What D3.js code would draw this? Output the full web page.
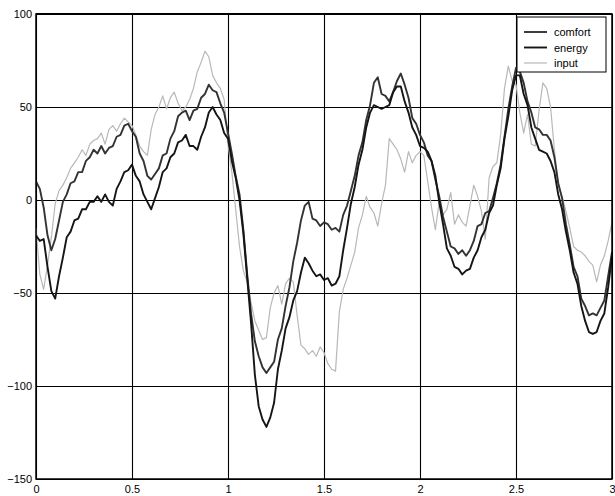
<!DOCTYPE html>
<html>
<head>
<meta charset="utf-8">
<script src="https://cdn.jsdelivr.net/npm/d3@7"></script>
<style>
  body { margin: 0; background: #fff; }
  .axis text { font-family: "Liberation Sans", Arial, sans-serif; font-size: 11px; fill: #000; }
  .axis line, .axis path { stroke: #000; }
  .legend text { font-family: "Liberation Sans", Arial, sans-serif; font-size: 11px; fill: #000; }
</style>
</head>
<body>
<div id="chart"></div>
<script>
// time samples (x axis)
var time = [
  0.00, 0.02, 0.04, 0.06, 0.08, 0.10, 0.12, 0.14, 0.16, 0.18,
  0.20, 0.22, 0.24, 0.26, 0.28, 0.30, 0.32, 0.34, 0.36, 0.38,
  0.40, 0.42, 0.44, 0.46, 0.48, 0.50, 0.52, 0.54, 0.56, 0.58,
  0.60, 0.62, 0.64, 0.66, 0.68, 0.70, 0.72, 0.74, 0.76, 0.78,
  0.80, 0.82, 0.84, 0.86, 0.88, 0.90, 0.92, 0.94, 0.96, 0.98,
  1.00, 1.02, 1.04, 1.06, 1.08, 1.10, 1.12, 1.14, 1.16, 1.18,
  1.20, 1.22, 1.24, 1.26, 1.28, 1.30, 1.32, 1.34, 1.36, 1.38,
  1.40, 1.42, 1.44, 1.46, 1.48, 1.50, 1.52, 1.54, 1.56, 1.58,
  1.60, 1.62, 1.64, 1.66, 1.68, 1.70, 1.72, 1.74, 1.76, 1.78,
  1.80, 1.82, 1.84, 1.86, 1.88, 1.90, 1.92, 1.94, 1.96, 1.98,
  2.00, 2.02, 2.04, 2.06, 2.08, 2.10, 2.12, 2.14, 2.16, 2.18,
  2.20, 2.22, 2.24, 2.26, 2.28, 2.30, 2.32, 2.34, 2.36, 2.38,
  2.40, 2.42, 2.44, 2.46, 2.48, 2.50, 2.52, 2.54, 2.56, 2.58,
  2.60, 2.62, 2.64, 2.66, 2.68, 2.70, 2.72, 2.74, 2.76, 2.78,
  2.80, 2.82, 2.84, 2.86, 2.88, 2.90, 2.92, 2.94, 2.96, 2.98,
  3.00
];

var comfort = [
  10, 6, -4, -19, -27, -21, -11, -1, 3, 9,
  10, 15, 15, 21, 23, 27, 25, 29, 25, 28,
  29, 34, 35, 40, 41, 37, 34, 25, 21, 13,
  11, 14, 17, 24, 25, 33, 37, 45, 47, 48,
  43, 48, 49, 55, 57, 62, 59, 58, 52, 47,
  36, 25, 13, 3, -16, -40, -61, -76, -84, -90,
  -93, -90, -87, -75, -69, -57, -47, -33, -23, -11,
  -3, -1, -10, -11, -14, -12, -13, -16, -15, -17,
  -8, -3, 5, 13, 24, 31, 43, 51, 63, 66,
  57, 56, 53, 58, 64, 68, 62, 55, 44, 41,
  35, 31, 24, 21, 11, 2, -9, -17, -25, -26,
  -29, -27, -30, -27, -22, -14, -13, -7, -6, 1,
  9, 19, 34, 49, 61, 71, 69, 63, 53, 47,
  39, 38, 35, 35, 32, 23, 9, 1, -13, -24,
  -36, -41, -53, -57, -62, -61, -62, -58, -54, -41,
  -28
];

var energy = [
  -19, -22, -21, -36, -49, -53, -41, -31, -20, -17,
  -11, -10, -5, -5, -1, -1, 2, -1, 3, -1,
  -3, 6, 10, 15, 16, 19, 13, 10, 3, -1,
  -5, 1, 7, 15, 17, 23, 25, 31, 32, 35,
  29, 29, 27, 34, 39, 47, 50, 46, 43, 36,
  33, 21, 12, 0, -18, -42, -66, -94, -111, -118,
  -122, -117, -109, -91, -81, -69, -63, -54, -49, -39,
  -31, -34, -38, -41, -40, -43, -42, -46, -45, -41,
  -27, -15, -2, 7, 19, 27, 39, 47, 51, 50,
  49, 50, 51, 58, 61, 61, 53, 47, 39, 35,
  29, 28, 26, 21, 13, -1, -13, -26, -30, -36,
  -37, -40, -38, -37, -31, -27, -20, -16, -7, -3,
  8, 17, 33, 45, 59, 67, 67, 57, 51, 39,
  33, 27, 26, 25, 21, 15, 3, -5, -17, -27,
  -39, -45, -57, -65, -71, -72, -71, -65, -61, -47,
  -30
];

var input = [
  -15, -40, -48, -35, -20, -2, 5, 8, 12, 17,
  20, 23, 27, 24, 30, 32, 33, 36, 30, 38,
  40, 37, 41, 44, 42, 40, 35, 29, 26, 24,
  38, 46, 50, 56, 49, 55, 58, 52, 48, 50,
  54, 60, 69, 74, 80, 77, 67, 63, 60, 54,
  30, 15, -5, -25, -38, -44, -55, -65, -70, -75,
  -74, -58, -50, -46, -56, -45, -42, -44, -62, -78,
  -80, -83, -81, -84, -79, -82, -88, -91, -92, -60,
  -48, -42, -35, -28, -15, -8, 2, -4, -7, -14,
  -2, 8, 33, 30, 27, 22, 15, 26, 20, 24,
  26, 24, 10, -4, -16, -1, -8, -5, 4, -13,
  -8, -12, -14, -3, 8, 2, -6, -21, 12, 18,
  20, 35, 60, 72, 64, 62, 47, 36, 46, 30,
  29, 48, 63, 60, 50, 27, 8, 2, -6, -15,
  -25, -27, -28, -30, -33, -35, -44, -35, -30, -22,
  -12
];

var xTicks = [0, 0.5, 1, 1.5, 2, 2.5, 3];
var yTicks = [-150, -100, -50, 0, 50, 100];

var seriesNames = ["comfort", "energy", "input"];
var seriesColours = ["#333333", "#151515", "#b8b8b8"];
var seriesWidths = [1.9, 1.9, 1.2];

// set the dimensions of the plot box
var width = 615,
    height = 496,
    plot = {left: 36, right: 612, top: 14, bottom: 479};

// set the ranges
var x = d3.scaleLinear().domain([0, 3]).range([plot.left, plot.right]);
var y = d3.scaleLinear().domain([-150, 100]).range([plot.bottom, plot.top]);

var svg = d3.select("#chart")
  .append("svg")
    .attr("width", width)
    .attr("height", height);

svg.append("defs").append("clipPath")
    .attr("id", "plotclip")
  .append("rect")
    .attr("x", plot.left).attr("y", plot.top)
    .attr("width", plot.right - plot.left).attr("height", plot.bottom - plot.top);

// grid + axes
svg.append("g")
    .attr("class", "axis")
    .attr("transform", "translate(0," + plot.bottom + ")")
    .call(d3.axisBottom(x)
      .tickValues(xTicks)
      .tickSize(-(plot.bottom - plot.top))
      .tickPadding(6)
      .tickFormat(d3.format("")))
    .call(function(g) { g.select(".domain").remove(); })
    .call(function(g) { g.selectAll("line").attr("stroke-width", 1.1); });

svg.append("g")
    .attr("class", "axis")
    .attr("transform", "translate(" + plot.left + ",0)")
    .call(d3.axisLeft(y)
      .tickValues(yTicks)
      .tickSize(-(plot.right - plot.left))
      .tickPadding(4)
      .tickFormat(d3.format("")))
    .call(function(g) { g.select(".domain").remove(); })
    .call(function(g) { g.selectAll("line").attr("stroke-width", 1.1); });

// the data lines
var table = seriesNames.map(function(name, i) {
  var vals = [comfort, energy, input][i];
  return { name: name, colour: seriesColours[i], w: seriesWidths[i],
           points: time.map(function(t, j) { return { t: t, v: vals[j] }; }) };
});

var valueline = d3.line()
    .x(function(d) { return x(d.t); })
    .y(function(d) { return y(d.v); });

svg.append("g")
    .attr("clip-path", "url(#plotclip)")
  .selectAll("path")
    .data([table[2], table[0], table[1]])
  .enter().append("path")
    .attr("fill", "none")
    .attr("stroke", function(d) { return d.colour; })
    .attr("stroke-width", function(d) { return d.w; })
    .attr("stroke-linejoin", "round")
    .attr("d", function(d) { return valueline(d.points); });

// frame, top edge a little heavier
svg.append("rect")
    .attr("x", plot.left).attr("y", plot.top)
    .attr("width", plot.right - plot.left).attr("height", plot.bottom - plot.top)
    .attr("fill", "none")
    .attr("stroke", "#000")
    .attr("stroke-width", 1.5);

svg.append("line")
    .attr("x1", plot.left).attr("x2", plot.right)
    .attr("y1", plot.top).attr("y2", plot.top)
    .attr("stroke", "#000")
    .attr("stroke-width", 2.2);

// legend
var legend = svg.append("g").attr("class", "legend");

legend.append("rect")
    .attr("x", 517).attr("y", 17)
    .attr("width", 89).attr("height", 55)
    .attr("fill", "#fff")
    .attr("stroke", "#000")
    .attr("stroke-width", 1);

var items = legend.selectAll("g.item")
    .data(table)
  .enter().append("g")
    .attr("class", "item")
    .attr("transform", function(d, i) { return "translate(0," + (32 + i * 15.5) + ")"; });

items.append("line")
    .attr("x1", 524).attr("x2", 547)
    .attr("stroke", function(d) { return d.colour; })
    .attr("stroke-width", function(d) { return d.w; });

items.append("text")
    .attr("x", 554)
    .attr("y", 4)
    .text(function(d) { return d.name; });
</script>
</body>
</html>
